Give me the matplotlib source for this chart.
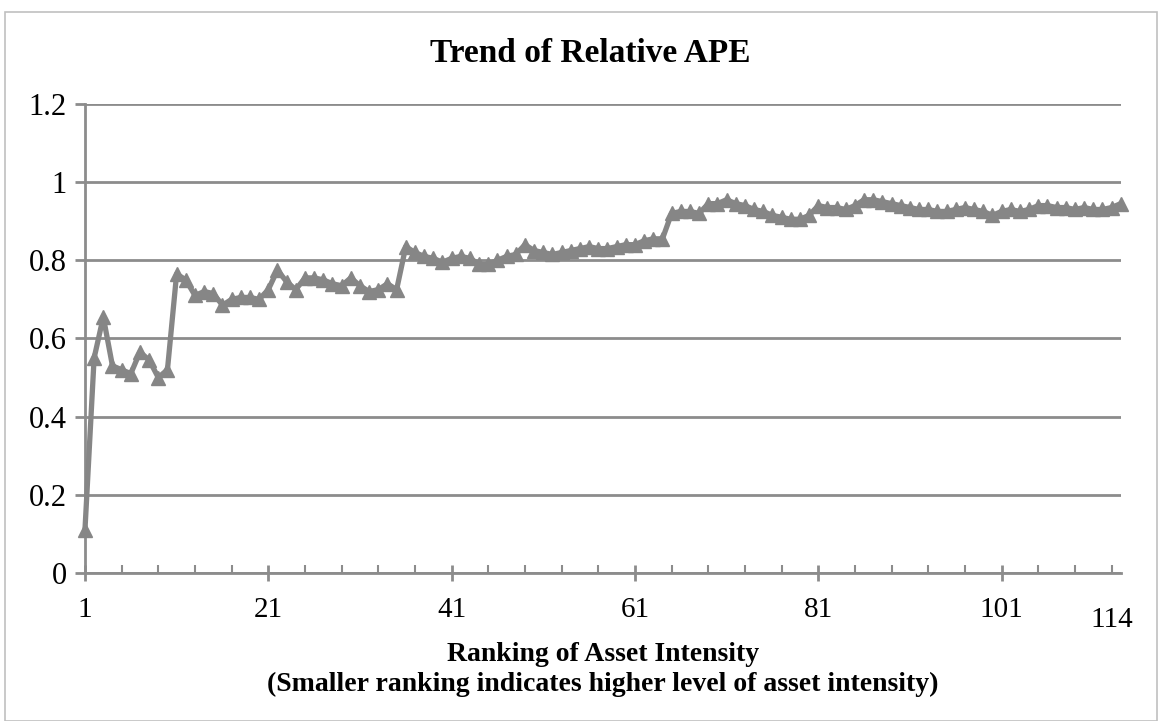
import matplotlib
matplotlib.use('Agg')
import matplotlib.pyplot as plt
from matplotlib.patches import Rectangle
from matplotlib.ticker import MultipleLocator, FuncFormatter

# ranking 1..114 and relative APE
ranking = list(range(1, 115))
rel_ape = [0.11, 0.55, 0.655, 0.53, 0.52, 0.51, 0.565, 0.545, 0.50, 0.52,
           0.765, 0.75, 0.71, 0.72, 0.715, 0.685, 0.70, 0.705, 0.705, 0.70,
           0.725, 0.775, 0.745, 0.725, 0.755, 0.755, 0.75, 0.74, 0.735, 0.755,
           0.735, 0.72, 0.725, 0.74, 0.725, 0.835, 0.82, 0.81, 0.805, 0.795,
           0.805, 0.81, 0.805, 0.79, 0.79, 0.80, 0.81, 0.815, 0.84, 0.825,
           0.82, 0.815, 0.82, 0.825, 0.83, 0.835, 0.83, 0.83, 0.835, 0.84,
           0.84, 0.85, 0.855, 0.855, 0.92, 0.925, 0.925, 0.92, 0.945, 0.945,
           0.955, 0.945, 0.94, 0.93, 0.925, 0.915, 0.91, 0.905, 0.905, 0.915,
           0.94, 0.935, 0.935, 0.93, 0.94, 0.955, 0.955, 0.95, 0.945, 0.94,
           0.935, 0.93, 0.93, 0.925, 0.925, 0.93, 0.935, 0.93, 0.925, 0.915,
           0.925, 0.93, 0.925, 0.93, 0.94, 0.94, 0.935, 0.935, 0.93, 0.935,
           0.93, 0.93, 0.935, 0.945]
xlabels = [1, 21, 41, 61, 81, 101]
yticks = [0, 0.2, 0.4, 0.6, 0.8, 1.0, 1.2]

title = 'Trend of Relative APE'
xtitle = 'Ranking of Asset Intensity\n(Smaller ranking indicates higher level of asset intensity)'

gray = '#868686'
gridc = '#8c8c8c'
plt.rcParams['font.family'] = ['Liberation Serif', 'DejaVu Serif']

fg = plt.figure(figsize=(11.59, 7.21), dpi=100)
fg.patches.append(Rectangle((0.004, 0.0), 0.994, 0.983, transform=fg.transFigure,
                            fill=False, edgecolor='#c0c0c0', linewidth=1.2))
ax = fg.add_axes([0.0733, 0.2053, 0.8937, 0.6505])

ax.plot(ranking, rel_ape, color=gray, linewidth=3.8, marker='^',
        markersize=9.5, markerfacecolor=gray, markeredgecolor=gray, zorder=3,
        clip_on=False)

ax.set_xlim(1, 114)
ax.set_ylim(0, 1.2)
ax.set_yticks(yticks)
ax.yaxis.set_major_formatter(FuncFormatter(lambda v, p: ('%g' % round(v, 1))))
ax.set_xticks(xlabels)
ax.xaxis.set_minor_locator(MultipleLocator(4, offset=1))
ax.grid(axis='y', color=gridc, linewidth=2.0)
ax.set_axisbelow(True)

for s in ('top', 'right'):
    ax.spines[s].set_visible(False)
for s in ('left', 'bottom'):
    ax.spines[s].set_color(gridc)
    ax.spines[s].set_linewidth(2.0)

ax.tick_params(axis='y', direction='out', length=7, width=2, color=gridc,
               labelsize=22, pad=6)
ax.tick_params(axis='x', which='major', direction='inout', length=12, width=2,
               color=gridc, labelsize=21, pad=11)
ax.tick_params(axis='x', which='minor', direction='in', length=6, width=1.5,
               color=gridc)

ax.text(113, -0.12, '114', transform=ax.transData, ha='center', va='center',
        fontsize=21, clip_on=False)

fg.text(0.509, 0.926, title, fontsize=24, fontweight='bold', ha='center', va='center')
ax.set_xlabel(xtitle, fontsize=20, fontweight='bold', labelpad=14, linespacing=1.25)

fg.savefig('out.png', dpi=100)
